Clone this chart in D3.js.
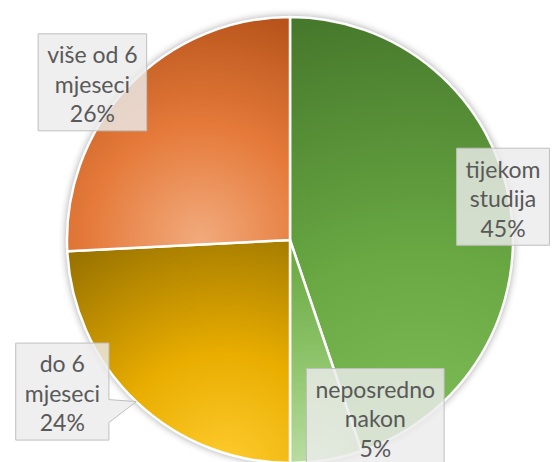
<!DOCTYPE html>
<html>
<head>
<meta charset="utf-8">
<script src="https://cdn.jsdelivr.net/npm/d3@7"></script>
<style>
  html, body { margin: 0; padding: 0; background: #fff; }
  svg { display: block; }
</style>
</head>
<body>
<svg id="chart" width="553" height="462"></svg>
<script>
// data
const categories = ['tijekom studija', 'neposredno nakon', 'do 6 mjeseci', 'više od 6 mjeseci'];
const shares = [44.8, 5.2, 24.2, 25.8];
const labelLines = [['tijekom', 'studija'], ['neposredno', 'nakon'], ['do 6', 'mjeseci'], ['više od 6', 'mjeseci']];

// styling / layout
const width = 553, height = 462;
const cx = 290, cy = 240, radius = 223;
// gradient centres are relative to the pie centre
const gradients = [
  { c: [130, 230], r: 480, stops: ['#82c05a', '#69a843', '#44752a'] },
  { c: [22, 230], r: 230, stops: ['#bfe0a8', '#90c56d', '#66a63f'] },
  { c: [-65, 230], r: 260, stops: ['#ffcd30', '#e9ad00', '#9a7400'] },
  { c: [-90, -2], r: 250, stops: ['#f2aa7c', '#e57a3a', '#b04e16'] }
];
// callout offsets from the rim point at each slice's mid angle
const labelOffsets = [[-7, -7], [49, -43], [-74, -10], [-36, -4]];

const svg = d3.select('#chart');
const defs = svg.append('defs');

const shadow = defs.append('filter').attr('id', 'shadow')
  .attr('x', '-20%').attr('y', '-20%').attr('width', '140%').attr('height', '140%');
shadow.append('feGaussianBlur').attr('in', 'SourceAlpha').attr('stdDeviation', 4).attr('result', 'b');
shadow.append('feComponentTransfer').attr('in', 'b').attr('result', 's')
  .append('feFuncA').attr('type', 'linear').attr('slope', 0.45);
const merge = shadow.append('feMerge');
merge.append('feMergeNode').attr('in', 's');
merge.append('feMergeNode').attr('in', 'SourceGraphic');

gradients.forEach((g, i) => {
  const rg = defs.append('radialGradient').attr('id', 'grad' + i)
    .attr('gradientUnits', 'userSpaceOnUse')
    .attr('cx', g.c[0]).attr('cy', g.c[1]).attr('r', g.r);
  rg.append('stop').attr('offset', 0).attr('stop-color', g.stops[0]);
  rg.append('stop').attr('offset', 0.45).attr('stop-color', g.stops[1]);
  rg.append('stop').attr('offset', 1).attr('stop-color', g.stops[2]);
});

const pie = d3.pie().sort(null).value(d => d)(shares);
const arc = d3.arc().innerRadius(0).outerRadius(radius);
const rimArc = d3.arc().innerRadius(radius).outerRadius(radius);

const g = svg.append('g').attr('transform', `translate(${cx},${cy})`);

g.append('circle').attr('r', radius).attr('fill', '#fff').attr('filter', 'url(#shadow)');

g.selectAll('path.slice')
  .data(pie)
  .join('path')
  .attr('class', 'slice')
  .attr('d', arc)
  .attr('fill', (d, i) => `url(#grad${i})`)
  .attr('stroke', '#fff')
  .attr('stroke-width', 2.5)
  .attr('stroke-linejoin', 'round');

// callouts
const labels = svg.append('g')
  .style('font-family', 'Lato, "Open Sans", sans-serif')
  .style('font-size', '23px')
  .attr('fill', '#595959');

pie.forEach((d, i) => {
  const rim = rimArc.centroid(d);
  const ax = cx + rim[0], ay = cy + rim[1];
  const bx = ax + labelOffsets[i][0], by = ay + labelOffsets[i][1];
  const lines = labelLines[i].concat([Math.round(d.data) + '%']);

  const lg = labels.append('g');
  const box = lg.append('path');
  const texts = lg.selectAll('text')
    .data(lines)
    .join('text')
    .attr('x', bx)
    .attr('y', (t, j) => by + (j - 1) * 29.5)
    .attr('dy', '0.45em')
    .attr('text-anchor', 'middle')
    .text(t => t);

  let tw = 0;
  texts.each(function () { tw = Math.max(tw, this.getComputedTextLength()); });
  const w = tw + 18, h = 97;
  const x0 = bx - w / 2, x1 = bx + w / 2, y0 = by - h / 2, y1 = by + h / 2;

  const p = d3.path();
  p.moveTo(x0, y0);
  p.lineTo(x1, y0);
  if (ax > x1) {
    p.lineTo(x1, ay - 2);
    p.lineTo(ax, ay);
    p.lineTo(x1, ay + 21);
  }
  p.lineTo(x1, y1);
  p.lineTo(x0, y1);
  p.closePath();

  box.attr('d', p.toString())
    .attr('fill', '#ececec')
    .attr('fill-opacity', 0.82)
    .attr('stroke', '#bfbfbf')
    .attr('stroke-width', 1);
});
</script>
</body>
</html>
